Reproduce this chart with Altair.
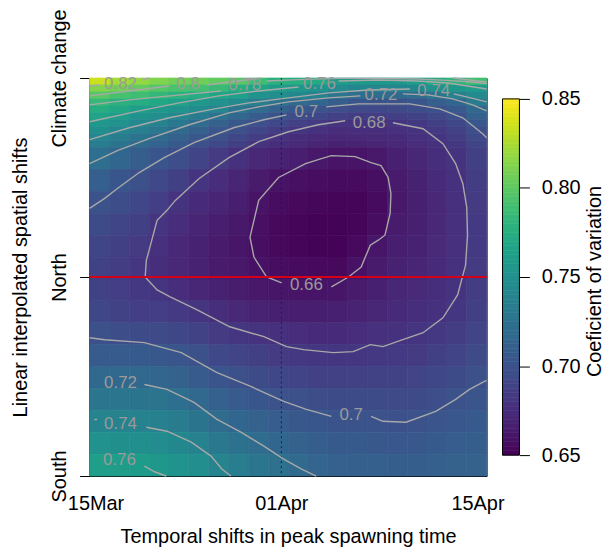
import altair as alt
import numpy as np
import pandas as pd

# ---------------- data ----------------
# heat-map cells: x in % of the temporal range (0..100), y in % of spatial range (South=0, North=50, Climate change=100)
x_edges = [0, 5, 10, 15, 20, 25, 30, 35, 40, 45, 50, 55, 60, 65, 70, 75, 80, 85, 90, 95, 100]
y_edges = [100, 98.25, 96.5, 94.75, 93, 91.25, 89.5, 87.75, 86, 84.25, 82.5,
           77, 71.5, 66, 60.5, 55, 49.5, 44, 38.5, 33, 27.5, 22, 16.5, 11, 5.5, 0]

# coefficient of variation, rows from top (Climate change) to bottom (South)
cv_rows = [
    [0.835, 0.823, 0.818, 0.812, 0.807, 0.806, 0.802, 0.799, 0.788, 0.777, 0.775, 0.772, 0.760, 0.758, 0.757, 0.757, 0.762, 0.773, 0.781, 0.790],
    [0.813, 0.808, 0.803, 0.797, 0.793, 0.791, 0.786, 0.776, 0.768, 0.761, 0.757, 0.752, 0.746, 0.743, 0.741, 0.741, 0.743, 0.751, 0.757, 0.759],
    [0.799, 0.792, 0.788, 0.783, 0.779, 0.774, 0.768, 0.763, 0.752, 0.748, 0.743, 0.737, 0.728, 0.722, 0.720, 0.719, 0.720, 0.728, 0.737, 0.745],
    [0.785, 0.778, 0.774, 0.769, 0.765, 0.757, 0.751, 0.745, 0.735, 0.726, 0.719, 0.716, 0.709, 0.704, 0.701, 0.701, 0.702, 0.710, 0.716, 0.732],
    [0.774, 0.769, 0.762, 0.757, 0.753, 0.746, 0.741, 0.728, 0.720, 0.712, 0.706, 0.702, 0.697, 0.694, 0.693, 0.694, 0.696, 0.699, 0.706, 0.717],
    [0.766, 0.760, 0.753, 0.748, 0.742, 0.733, 0.725, 0.717, 0.708, 0.701, 0.696, 0.692, 0.688, 0.685, 0.686, 0.687, 0.689, 0.693, 0.699, 0.711],
    [0.757, 0.751, 0.744, 0.739, 0.730, 0.720, 0.712, 0.705, 0.699, 0.693, 0.688, 0.684, 0.679, 0.679, 0.680, 0.680, 0.682, 0.687, 0.693, 0.704],
    [0.749, 0.741, 0.736, 0.729, 0.719, 0.712, 0.704, 0.698, 0.692, 0.685, 0.680, 0.678, 0.675, 0.676, 0.676, 0.677, 0.679, 0.683, 0.688, 0.697],
    [0.741, 0.734, 0.727, 0.719, 0.712, 0.705, 0.698, 0.692, 0.685, 0.679, 0.676, 0.674, 0.672, 0.673, 0.673, 0.674, 0.677, 0.680, 0.685, 0.694],
    [0.734, 0.727, 0.719, 0.713, 0.706, 0.698, 0.693, 0.687, 0.680, 0.676, 0.673, 0.670, 0.668, 0.669, 0.670, 0.672, 0.675, 0.678, 0.682, 0.691],
    [0.722, 0.716, 0.709, 0.702, 0.697, 0.690, 0.684, 0.678, 0.672, 0.669, 0.666, 0.662, 0.660, 0.660, 0.663, 0.667, 0.671, 0.676, 0.679, 0.687],
    [0.710, 0.703, 0.698, 0.693, 0.687, 0.680, 0.675, 0.670, 0.664, 0.660, 0.658, 0.656, 0.655, 0.655, 0.657, 0.664, 0.668, 0.674, 0.678, 0.685],
    [0.700, 0.696, 0.692, 0.686, 0.679, 0.674, 0.670, 0.666, 0.660, 0.656, 0.654, 0.653, 0.652, 0.652, 0.655, 0.663, 0.667, 0.672, 0.677, 0.684],
    [0.695, 0.691, 0.687, 0.680, 0.675, 0.670, 0.666, 0.663, 0.658, 0.654, 0.652, 0.651, 0.651, 0.652, 0.656, 0.664, 0.667, 0.672, 0.677, 0.683],
    [0.691, 0.687, 0.684, 0.677, 0.672, 0.668, 0.664, 0.661, 0.657, 0.654, 0.652, 0.651, 0.651, 0.654, 0.661, 0.666, 0.668, 0.673, 0.677, 0.683],
    [0.689, 0.685, 0.681, 0.676, 0.672, 0.668, 0.664, 0.662, 0.659, 0.656, 0.655, 0.654, 0.654, 0.659, 0.664, 0.668, 0.670, 0.674, 0.678, 0.684],
    [0.689, 0.686, 0.682, 0.680, 0.675, 0.671, 0.668, 0.665, 0.662, 0.661, 0.660, 0.660, 0.661, 0.664, 0.667, 0.671, 0.673, 0.676, 0.679, 0.685],
    [0.692, 0.689, 0.686, 0.686, 0.683, 0.680, 0.676, 0.672, 0.669, 0.667, 0.666, 0.666, 0.667, 0.669, 0.671, 0.674, 0.676, 0.678, 0.681, 0.687],
    [0.698, 0.696, 0.695, 0.694, 0.692, 0.689, 0.684, 0.681, 0.679, 0.677, 0.675, 0.674, 0.674, 0.675, 0.677, 0.678, 0.680, 0.682, 0.685, 0.690],
    [0.707, 0.707, 0.706, 0.705, 0.702, 0.698, 0.693, 0.690, 0.687, 0.684, 0.682, 0.681, 0.681, 0.681, 0.682, 0.683, 0.684, 0.687, 0.690, 0.694],
    [0.717, 0.717, 0.717, 0.715, 0.712, 0.707, 0.702, 0.698, 0.695, 0.692, 0.690, 0.688, 0.688, 0.688, 0.689, 0.689, 0.690, 0.692, 0.695, 0.698],
    [0.728, 0.728, 0.727, 0.726, 0.722, 0.717, 0.711, 0.707, 0.703, 0.700, 0.698, 0.696, 0.695, 0.695, 0.695, 0.694, 0.695, 0.697, 0.700, 0.702],
    [0.740, 0.739, 0.738, 0.736, 0.733, 0.727, 0.720, 0.716, 0.712, 0.708, 0.705, 0.703, 0.701, 0.701, 0.700, 0.699, 0.700, 0.702, 0.704, 0.706],
    [0.751, 0.749, 0.749, 0.746, 0.743, 0.738, 0.730, 0.725, 0.720, 0.716, 0.712, 0.709, 0.706, 0.706, 0.705, 0.704, 0.705, 0.706, 0.708, 0.709],
    [0.762, 0.760, 0.759, 0.756, 0.752, 0.748, 0.740, 0.734, 0.728, 0.724, 0.719, 0.714, 0.711, 0.710, 0.710, 0.709, 0.709, 0.710, 0.712, 0.712],
]

x_tick_values = [1.5, 48.3, 97.7]
x_tick_labels = ["15Mar", "01Apr", "15Apr"]
y_tick_values = [0, 50, 100]
y_tick_labels = ["South", "North", "Climate change"]
north_line = [50]
april_line = [48.3]
legend_ticks = [0.65, 0.70, 0.75, 0.80, 0.85]

# contour polylines (segments broken at the labels)
contour_082 = [[(0, 98.0), (2.5, 98.25)], [(13.3, 99.5), (15.0, 100)]]
contour_080 = [[(0, 95.5), (10.0, 96.75), (20.05, 98.0)],
               [(29.6, 98.25), (35.1, 99.0), (41.4, 99.75), (43.1, 100)],
               [(91.5, 100), (100, 99.0)]]
contour_078 = [[(0, 93.25), (10.0, 94.5), (20.3, 95.5), (33.1, 96.75)],
               [(44.6, 99.25), (52.6, 99.6), (62.7, 99.9), (72.7, 99.9), (82.7, 99.75), (90.2, 99.4), (96.5, 99.0), (100, 98.6)]]
contour_076 = [[(0, 89.0), (12.5, 91.75), (22.6, 93.75), (32.6, 95.5), (42.6, 96.75), (52.6, 97.75)],
               [(62.7, 99.25), (72.7, 99.5), (82.7, 99.25), (90.2, 98.75), (95.2, 98.0), (100, 97.25)],
               [(13.8, 2.5), (16.5, 1.0), (19.3, 0)]]
contour_074 = [[(0, 84.5), (10.0, 87.5), (20.05, 90.0), (30.1, 92.0), (40.1, 93.75), (50.1, 95.0), (60.2, 96.25), (70.2, 97.0), (80.7, 97.25)],
               [(91.7, 96.0), (96.0, 95.0), (100, 94.0)],
               [(1.2, 14.2), (1.9, 14.2)],
               [(14.3, 12.25), (19.5, 11.25), (25.6, 8.5), (30.6, 5.0), (33.3, 1.75), (35.6, 0)]]
contour_072 = [[(0, 78.5), (7.0, 81.75), (15.0, 84.75), (25.1, 88.25), (35.1, 91.25), (42.6, 92.75), (50.1, 94.0), (60.2, 95.0), (68.2, 95.5)],
               [(78.9, 96.0), (85.2, 95.75), (91.5, 94.75), (96.5, 93.25), (100, 91.75)],
               [(13.8, 23.0), (19.5, 21.75), (26.3, 18.5), (32.1, 14.25), (38.1, 11.0), (43.9, 7.5), (48.9, 4.25), (53.4, 1.75), (57.1, 0)]]
contour_070 = [[(0, 67.25), (3.8, 69.75), (7.0, 72.25), (12.5, 76.25), (18.8, 80.0), (26.3, 83.75), (36.3, 87.5), (43.9, 89.5), (49.6, 90.75)],
               [(59.6, 92.75), (67.7, 93.5), (80.7, 93.5), (88.2, 92.25), (94.0, 90.0), (99.0, 86.0), (100, 85.0)],
               [(0, 34.75), (3.8, 34.25), (13.8, 33.5), (23.1, 31.0), (32.1, 26.0), (40.6, 22.5), (48.9, 18.75), (54.6, 16.75), (60.9, 15.0)],
               [(70.9, 15.0), (73.9, 13.75), (79.7, 13.5), (87.2, 16.25), (92.2, 19.25), (95.7, 21.75), (99.0, 23.5), (100, 24.0)]]
contour_068 = [[(76.4, 88.75), (84.0, 87.25), (89.0, 83.5), (92.2, 78.5), (94.0, 73.5), (95.0, 67.5), (95.2, 60.5),
                (94.7, 53.0), (92.7, 45.5), (89.0, 39.75), (84.0, 36.0), (78.9, 34.25), (73.9, 32.5), (70.7, 33.0),
                (66.4, 31.25), (61.4, 31.0), (53.9, 31.75), (49.6, 32.5), (43.9, 35.0), (35.3, 37.5), (27.1, 41.75),
                (20.3, 45.0), (17.0, 46.75), (14.0, 50.0), (14.3, 54.25), (15.0, 56.75), (17.0, 64.25), (19.5, 66.75),
                (21.6, 69.25), (27.6, 74.75), (35.1, 80.0), (42.6, 84.0), (50.1, 86.5), (57.6, 88.25), (64.4, 89.25)]]
contour_066 = [[(60.9, 47.5), (65.2, 50.0), (68.4, 52.5), (70.7, 58.0), (72.7, 59.25), (74.4, 60.5), (75.7, 66.0),
                (75.9, 71.0), (75.2, 75.0), (73.4, 78.0), (70.9, 78.75), (66.9, 80.25), (60.9, 80.5), (58.4, 79.75),
                (54.4, 78.5), (47.6, 75.0), (42.6, 69.25), (40.4, 60.0), (41.4, 55.0), (44.6, 50.0), (48.4, 48.5)]]

label_text = ["0.82", "0.8", "0.78", "0.76", "0.74", "0.72", "0.7", "0.68", "0.66", "0.7", "0.72", "0.74", "0.76"]
label_x = [7.8, 24.8, 39.1, 57.9, 86.7, 73.4, 54.6, 70.4, 54.6, 65.9, 7.8, 7.8, 7.5]
label_y = [98.5, 98.5, 98.25, 98.5, 96.75, 95.75, 91.5, 88.75, 48.0, 15.25, 23.25, 13.0, 4.0]

# ---------------- tables ----------------
heat_records = []
for r, vals in enumerate(cv_rows):
    for c, v in enumerate(vals):
        heat_records.append({"x0": x_edges[c], "x1": x_edges[c + 1],
                             "y0": y_edges[r + 1], "y1": y_edges[r], "cv": v})
heat_df = pd.DataFrame(heat_records)

contour_sets = [(0.82, contour_082), (0.80, contour_080), (0.78, contour_078), (0.76, contour_076),
                (0.74, contour_074), (0.72, contour_072), (0.70, contour_070), (0.68, contour_068),
                (0.66, contour_066)]
line_records = []
for lvl, segs in contour_sets:
    for si, seg in enumerate(segs):
        for i, (px, py) in enumerate(seg):
            line_records.append({"seg": f"{lvl}_{si}", "i": i, "x": px, "y": py})
line_df = pd.DataFrame(line_records)
label_df = pd.DataFrame({"t": label_text, "x": label_x, "y": label_y})

steps = np.linspace(legend_ticks[0], legend_ticks[-1], 81)
cbar_df = pd.DataFrame({"lo": steps[:-1], "hi": steps[1:], "mid": (steps[:-1] + steps[1:]) / 2})


def label_expr(values, labels):
    expr = "''"
    for v, l in reversed(list(zip(values, labels))):
        expr = f"abs(datum.value - {v}) < 0.01 ? '{l}' : ({expr})"
    return expr


FONT = "Liberation Sans"


def xs():
    return alt.Scale(domain=[0, 100], nice=False, zero=False)


def ys():
    return alt.Scale(domain=[0, 100], nice=False, zero=False)


def cbs():
    return alt.Scale(domain=[0.65, 0.85], range=[379, 21], nice=False, zero=False)


cscale = alt.Scale(scheme="viridis", domain=[0.65, 0.85], clamp=True)


def x_axis():
    return alt.Axis(values=x_tick_values, labelExpr=label_expr(x_tick_values, x_tick_labels),
                    ticks=False, labelPadding=18, labelFlush=False, labelOverlap=False,
                    title="Temporal shifts in peak spawning time", titleY=67, titleBaseline="alphabetic",
                    domain=True, grid=False)


y_axis = alt.Axis(values=y_tick_values, labelExpr=label_expr(y_tick_values, y_tick_labels),
                  labelAngle=270, labelAlign="center", labelBaseline="alphabetic",
                  tickSize=10, labelPadding=14, labelFlush=False, labelOverlap=False,
                  title="Linear interpolated spatial shifts", titleAngle=270, titleX=-63, titleY=200,
                  titleBaseline="alphabetic", titleAlign="center", domain=True, grid=False)
cb_axis = alt.Axis(orient="right", offset=33, values=legend_ticks, format=".2f",
                   domain=False, tickSize=10, labelPadding=12, labelFlush=False,
                   labelOverlap=False, grid=False,
                   title="Coeficient of variation", titleAngle=270, titleX=81, titleY=204,
                   titleBaseline="alphabetic", titleAlign="center")

heat = alt.Chart(heat_df).mark_rect(strokeWidth=0.7).encode(
    x=alt.X("x0:Q", scale=xs(), axis=x_axis()),
    x2="x1:Q",
    y=alt.Y("y0:Q", scale=ys(), axis=y_axis),
    y2="y1:Q",
    color=alt.Color("cv:Q", scale=cscale, legend=None),
    stroke=alt.Stroke("cv:Q", scale=cscale, legend=None),
)

dotted = alt.Chart(pd.DataFrame({"x": april_line})).mark_rule(
    color="#1c1c3c", strokeWidth=1, strokeDash=[2, 3]
).encode(x=alt.X("x:Q", scale=xs(), axis=x_axis()))

lines = alt.Chart(line_df).mark_line(color="#a8a8a8", strokeWidth=1.4).encode(
    x=alt.X("x:Q", scale=xs(), axis=x_axis()),
    y=alt.Y("y:Q", scale=ys(), axis=None),
    detail="seg:N",
    order="i:Q",
)

labels = alt.Chart(label_df).mark_text(color="#9a9a9a", fontSize=17, font=FONT,
                                        align="center", baseline="middle").encode(
    x=alt.X("x:Q", scale=xs(), axis=x_axis()),
    y=alt.Y("y:Q", scale=ys(), axis=None),
    text="t:N",
)

red = alt.Chart(pd.DataFrame({"y": north_line})).mark_rule(color="#d40018", strokeWidth=2).encode(
    y=alt.Y("y:Q", scale=ys(), axis=None)
)

cbar = alt.Chart(cbar_df).mark_rect(strokeWidth=0.6).encode(
    x=alt.value(415), x2=alt.value(432),
    y=alt.Y("lo:Q", scale=cbs(), axis=cb_axis),
    y2="hi:Q",
    color=alt.Color("mid:Q", scale=cscale, legend=None),
    stroke=alt.Stroke("mid:Q", scale=cscale, legend=None),
)
cframe = alt.Chart(pd.DataFrame({"a": [legend_ticks[0]], "b": [legend_ticks[-1]]})).mark_rect(
    fillOpacity=0, stroke="black", strokeWidth=1
).encode(
    x=alt.value(415), x2=alt.value(432),
    y=alt.Y("a:Q", scale=cbs(), axis=None), y2="b:Q",
)

chart = alt.layer(heat, dotted, lines, red, labels, cbar, cframe).resolve_scale(
    y="independent"
).properties(
    width=399, height=400,
    padding={"left": 82, "top": 69, "right": 120, "bottom": 71},
    autosize=alt.AutoSizeParams(type="none"),
).configure_view(stroke="black", strokeWidth=1).configure_axis(
    labelFont=FONT, titleFont=FONT, labelFontSize=20, titleFontSize=20,
    labelColor="black", titleColor="black", tickColor="black", domainColor="black",
    titleFontWeight="normal", grid=False,
).configure_text(font=FONT)

chart.save("out.html", embed_options={"renderer": "svg", "actions": False})
